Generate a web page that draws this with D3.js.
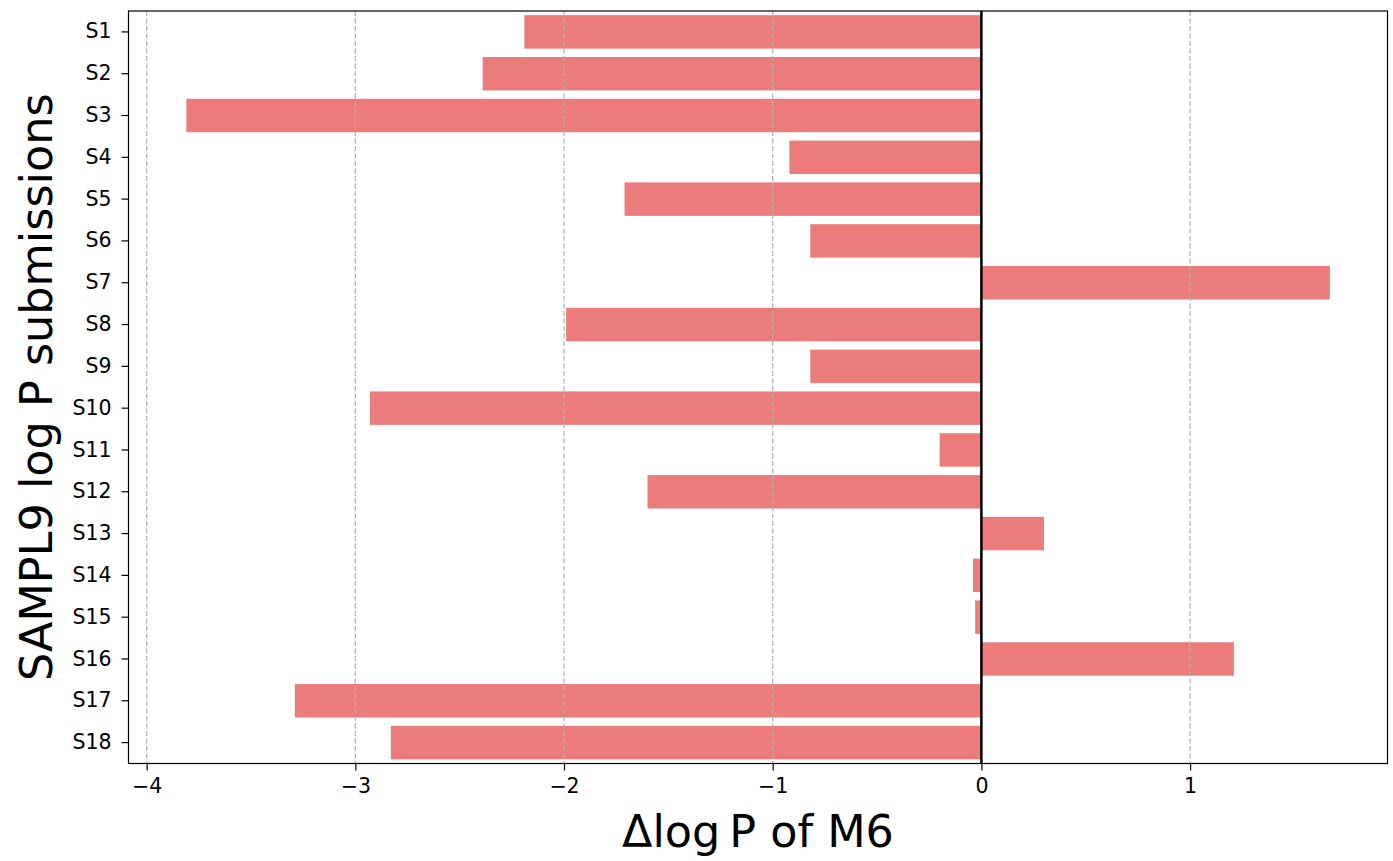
<!DOCTYPE html>
<html>
<head>
<meta charset="utf-8">
<script src="https://cdn.jsdelivr.net/npm/d3@7"></script>
<style>
  body { margin: 0; background: #fff; }
  text { font-family: "DejaVu Sans", sans-serif; }
</style>
</head>
<body>
<div id="chart-area"></div>
<script>
// submissions and their delta log P
let submissions = ["S1","S2","S3","S4","S5","S6","S7","S8","S9","S10",
                   "S11","S12","S13","S14","S15","S16","S17","S18"];
let deltaLogP = [-2.19, -2.39, -3.81, -0.92, -1.71, -0.82, 1.67, -1.99, -0.82, -2.93,
                 -0.20, -1.60, 0.30, -0.04, -0.03, 1.21, -3.29, -2.83];
let xTicks = [-4, -3, -2, -1, 0, 1];

let width = 1393, height = 861;
let plotLeft = 128.5, plotRight = 1387.5, plotTop = 11, plotBottom = 763.5;

let svg = d3.select('#chart-area')
            .append('svg')
            .attr("width", width)
            .attr("height", height);

let x = d3.scaleLinear()
        .domain([-4.087, 1.946])
        .range([plotLeft, plotRight]);

let y = d3.scaleBand()
        .domain(submissions)
        .range([plotTop, plotBottom])
        .paddingInner(0.2)
        .paddingOuter(0.1);

// bars
svg.selectAll("rect.bar")
    .data(deltaLogP)
    .enter()
    .append("rect")
    .attr("class", "bar")
    .attr("x", d => x(Math.min(0, d)))
    .attr("y", (d, i) => y(submissions[i]))
    .attr("width", d => Math.abs(x(d) - x(0)))
    .attr("height", y.bandwidth())
    .attr("fill", "#ec7b7b");

// vertical grid (drawn over bars)
svg.selectAll("line.grid")
    .data(xTicks)
    .enter()
    .append("line")
    .attr("x1", d => x(d))
    .attr("x2", d => x(d))
    .attr("y1", plotTop)
    .attr("y2", plotBottom)
    .attr("stroke", "#b0b0b0")
    .attr("stroke-width", 1.2)
    .attr("stroke-dasharray", "5,2.5");

// zero line
svg.append("line")
    .attr("x1", x(0)).attr("x2", x(0))
    .attr("y1", plotTop).attr("y2", plotBottom)
    .attr("stroke", "#000")
    .attr("stroke-width", 2.5);

// axes
let xAxis = d3.axisBottom(x)
    .tickValues(xTicks)
    .tickSize(7)
    .tickPadding(8)
    .tickFormat(d => d < 0 ? "\u2212" + Math.abs(d) : d);

let gx = svg.append("g")
    .attr("transform", "translate(0," + plotBottom + ")")
    .call(xAxis);

let yAxis = d3.axisLeft(y)
    .tickSize(7)
    .tickPadding(10);

let gy = svg.append("g")
    .attr("transform", "translate(" + plotLeft + ",0)")
    .call(yAxis);

[gx, gy].forEach(g => {
    g.attr("font-size", null).attr("font-family", null);
    g.select(".domain").remove();
    g.selectAll(".tick line").attr("stroke", "#000").attr("stroke-width", 1.2);
    g.selectAll(".tick text")
        .attr("fill", "#000")
        .style("font-size", "20.5px")
        .style("font-family", "DejaVu Sans");
});

// frame
svg.append("rect")
    .attr("x", plotLeft)
    .attr("y", plotTop)
    .attr("width", plotRight - plotLeft)
    .attr("height", plotBottom - plotTop)
    .attr("fill", "none")
    .attr("stroke", "#000")
    .attr("stroke-width", 1.2);

// axis labels
svg.append("text")
    .attr("x", (plotLeft + plotRight) / 2)
    .attr("y", 847)
    .attr("text-anchor", "middle")
    .style("font-size", "44.5px")
    .text("\u0394log\u2009P of M6");

svg.append("text")
    .attr("transform", "translate(52," + (plotTop + plotBottom) / 2 + ") rotate(-90)")
    .attr("text-anchor", "middle")
    .style("font-size", "44.5px")
    .text("SAMPL9 log P submissions");
</script>
</body>
</html>
